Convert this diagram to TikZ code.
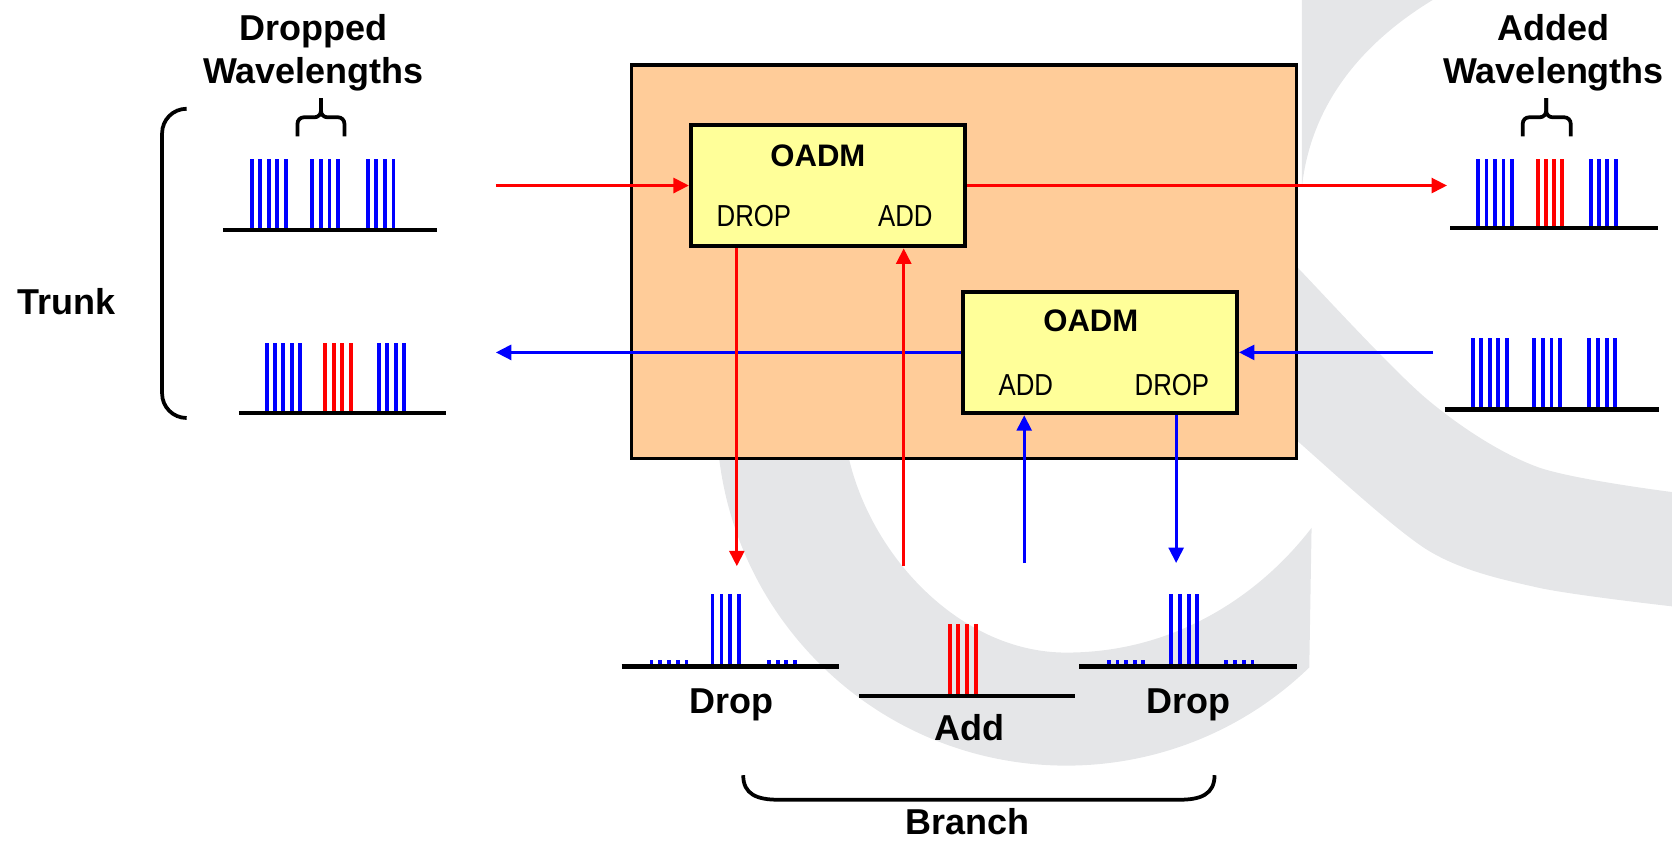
\documentclass[tikz,border=0pt]{standalone}
\usepackage{fontspec}
\setmainfont{Liberation Sans}
\newfontfamily\narrowsf{Liberation Sans}[FakeStretch=0.85]
\usetikzlibrary{positioning,arrows.meta,calc}

\definecolor{boxorange}{RGB}{255,204,153}
\definecolor{oadmyellow}{RGB}{255,255,153}
\definecolor{logogray}{RGB}{229,230,232}

% one group of wavelengths: first x, spacing, count, base y, top y, colour
\newcommand{\wlgroup}[6]{%
  \foreach \k in {1,...,#3}
    \draw[wl,#6] ({#1+#2*(\k-1)},#4) -- ({#1+#2*(\k-1)},#5);%
}

\begin{document}
\begin{tikzpicture}[x=0.1mm,y=-0.1mm,font=\fontsize{9.6}{11.5}\selectfont\bfseries]
  \tikzstyle{wl}=[line width=1.05pt]
  \tikzstyle{axis}=[line width=1.1pt]
  \tikzstyle{sig}=[line width=0.8pt,-{Triangle[length=1.45mm,width=1.4mm]}]
  \tikzstyle{oadm}=[draw,line width=1.1pt,fill=oadmyellow,minimum width=25.7mm,minimum height=11.4mm,inner sep=0pt]
  \tikzstyle{port}=[font=\narrowsf\fontsize{8.1}{9}\selectfont,anchor=base,inner sep=0pt]
  \tikzstyle{lbl}=[anchor=base,inner sep=0pt]
  \tikzstyle{brk}=[line width=1pt]

  \useasboundingbox (0,0) rectangle (1568,788);

  % logo in the background
  \begin{scope}
    \clip (0,0) rectangle (1568,788);
    \fill[logogray] (1000,390) ++(46:328) arc[start angle=46,end angle=300,radius=328]
      -- (1100,250) -- (795,300) -- (795,425)
      .. controls (815,520) and (900,612) .. (1000,612)
      .. controls (1100,612) and (1180,560) .. (1230,495) -- cycle;
    \fill[logogray] (1221,-5) -- (1221,175) .. controls (1228,110) and (1265,45) .. (1352,-5) -- cycle;
    \fill[logogray] plot[smooth] coordinates {(1200,232) (1216,250) (1339,375) (1442,438) (1580,463)}
      -- plot[smooth] coordinates {(1580,570) (1442,551) (1339,516) (1216,413) (1200,398)} -- cycle;
  \end{scope}

  \node[draw,line width=0.85pt,fill=boxorange,minimum width=62.4mm,minimum height=36.9mm] (shelf) at (904,245.5) {};
  \node[oadm] (oadmA) at (776.5,174) {};
  \node[oadm] (oadmB) at (1031.5,330.5) {};
  \node[lbl,font=\fontsize{8.3}{10}\selectfont\bfseries] (nameA) at (767,156) {OADM};
  \node[lbl,font=\fontsize{8.3}{10}\selectfont\bfseries] (nameB) at (1023,311) {OADM};
  \node[port] (dropA) at (707,212.6) {DROP};
  \node[port] (addA) at (849,212.6) {ADD};
  \node[port] (addB) at (962,370.5) {ADD};
  \node[port] (dropB) at (1099,370.5) {DROP};

  \coordinate (rin) at (465,174);
  \coordinate (rout) at (1357,174);
  \coordinate (bin) at (1344,330.5);
  \coordinate (bout) at (465,330.5);
  \coordinate (rdrop) at (691,531);
  \coordinate (radd) at (847.5,531);
  \coordinate (badd) at (960.5,528);
  \coordinate (bdrop) at (1103,528);
  \draw[sig,red] (rin) -- (oadmA);
  \draw[sig,red] (oadmA) -- (rout);
  \draw[sig,blue] (bin) -- (oadmB);
  \draw[sig,blue] (oadmB) -- (bout);
  \draw[sig,red] (rdrop |- oadmA.south) -- (rdrop);
  \draw[sig,red] (radd) -- (radd |- oadmA.south);
  \draw[sig,blue] (badd) -- (badd |- oadmB.south);
  \draw[sig,blue] (bdrop |- oadmB.south) -- (bdrop);

  % trunk spectra
  \wlgroup{236}{8}{5}{216}{149}{blue}
  \wlgroup{293}{8}{4}{216}{149}{blue}
  \wlgroup{345}{8}{4}{216}{149}{blue}
  \draw[axis] (209,216) -- (410,216);
  \wlgroup{250}{7.8}{5}{387}{322}{blue}
  \wlgroup{305}{8}{4}{387}{322}{red}
  \wlgroup{355}{8}{4}{387}{322}{blue}
  \draw[axis] (224,387) -- (418,387);
  \wlgroup{1386}{8}{5}{214}{149}{blue}
  \wlgroup{1442}{7.7}{4}{214}{149}{red}
  \wlgroup{1492}{7.7}{4}{214}{149}{blue}
  \draw[axis] (1360,214) -- (1555,214);
  \wlgroup{1381}{8}{5}{384}{317}{blue}
  \wlgroup{1439}{8}{4}{384}{317}{blue}
  \wlgroup{1490}{8.3}{4}{384}{317}{blue}
  \draw[axis] (1355,384) -- (1556,384);

  % branch spectra
  \wlgroup{611}{8.2}{5}{625}{619}{blue}
  \wlgroup{668.2}{8.4}{4}{625}{557}{blue}
  \wlgroup{721}{8.2}{4}{625}{619}{blue}
  \draw[axis] (583,625) -- (787,625);
  \wlgroup{890.6}{8.2}{4}{653}{585}{red}
  \draw[axis] (806,653) -- (1008,653);
  \wlgroup{1040}{8}{5}{625}{619}{blue}
  \wlgroup{1098}{8.3}{4}{625}{557}{blue}
  \wlgroup{1150}{8.2}{4}{625}{619}{blue}
  \draw[axis] (1012,625) -- (1216,625);

  % braces
  \draw[brk,rounded corners=0.6mm] (279,128) -- (279,110) -- (301,110) -- (301,92);
  \draw[brk,rounded corners=0.6mm] (323,128) -- (323,110) -- (301,110) -- (301,92);
  \draw[brk,rounded corners=0.6mm] (1428,128) -- (1428,110) -- (1450,110) -- (1450,92);
  \draw[brk,rounded corners=0.6mm] (1473,128) -- (1473,110) -- (1450,110) -- (1450,92);
  \draw[brk,rounded corners=2.3mm] (175,102) -- (152,102) -- (152,392) -- (175,392);
  \draw[brk] (697,727) .. controls (697,745) and (710,750) .. (730,750) -- (1106,750)
    .. controls (1126,750) and (1139,745) .. (1139,727);

  \node[anchor=north,align=center,inner sep=0pt] (dropped) at (294,12.5) {Dropped\\Wavelengths};
  \node[anchor=north,align=center,inner sep=0pt] (added) at (1457,12.5) {Added\\Wavelengths};
  \node[lbl] (trunk) at (62,295) {Trunk};
  \node[lbl] (dropL) at (686,669) {Drop};
  \node[lbl] (addM) at (909,694.6) {Add};
  \node[lbl] (dropR) at (1115,669) {Drop};
  \node[lbl] (branch) at (907.5,783) {Branch};
\end{tikzpicture}
\end{document}
